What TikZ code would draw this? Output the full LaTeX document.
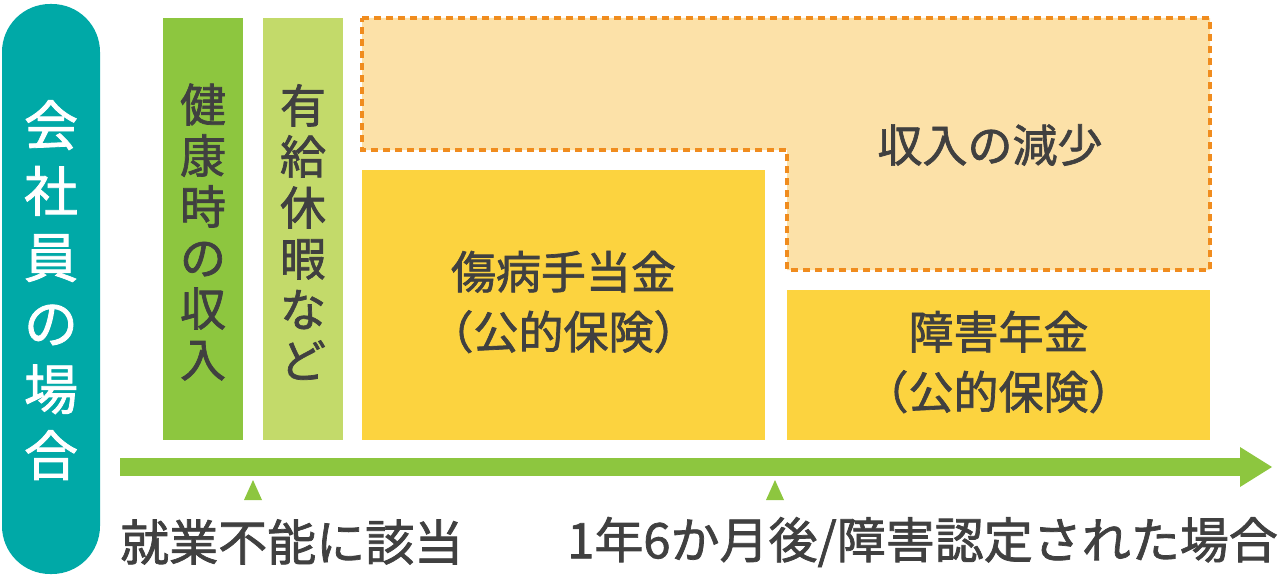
\documentclass[tikz,border=0pt]{standalone}
\usepackage{fontspec}
\setmainfont{Noto Sans CJK JP}[FakeBold=1.5]
\begin{document}
\begin{tikzpicture}[x=1pt,y=-1pt,
  txt/.style={text=black!75,font=\fontsize{45}{60}\selectfont},
  btxt/.style={text=black!75,font=\fontsize{49}{60}\selectfont},
  vtxt/.style={text=black!75,font=\fontsize{46}{51}\selectfont,align=center,inner sep=0pt}]
\definecolor{teal1}{HTML}{00A9A7}
\definecolor{g1}{HTML}{8DC63F}
\definecolor{g2}{HTML}{C3DA6A}
\definecolor{o1}{HTML}{F08C1E}
\definecolor{o2}{HTML}{FCE1A8}
\definecolor{y1}{HTML}{FCD33F}
\useasboundingbox (0,0) rectangle (1280,578);
\node[fill=teal1,rounded corners=48pt,minimum width=98pt,minimum height=570pt,inner sep=0pt] (pill) at (51,289) {};
\node[text=white,font=\fontsize{54}{66}\selectfont,align=center] (pt) at (51,290) {会\\社\\員\\の\\場\\合};
\node[fill=g1,minimum width=80pt,minimum height=422pt,inner sep=0pt] (b1) at (203,229) {};
\node[vtxt] at (203,232) {健\\康\\時\\の\\収\\入};
\node[fill=g2,minimum width=80pt,minimum height=422pt,inner sep=0pt] (b2) at (303,229) {};
\node[vtxt] at (303,232) {有\\給\\休\\暇\\な\\ど};
\draw[o1,fill=o2,line width=3.5pt,dash pattern=on 7pt off 5pt] (362,18) -- (1210,18) -- (1210,270) -- (787,270) -- (787,150) -- (362,150) -- cycle;
\node[txt] (red) at (990,145) {収入の減少};
\node[fill=y1,minimum width=403pt,minimum height=270pt,inner sep=0pt] (y1b) at (563.5,305) {};
\node[txt,align=center] at (563.5,302) {傷病手当金\\（公的保険）};
\node[fill=y1,minimum width=423pt,minimum height=150pt,inner sep=0pt] (y2b) at (998.5,365) {};
\node[txt,align=center] at (998.5,362) {障害年金\\（公的保険）};
\fill[g1] (120,458) rectangle (1242,476);
\fill[g1] (1240,447) -- (1272,467) -- (1240,487) -- cycle;
\fill[g1] (253,480) -- (262,500) -- (244,500) -- cycle;
\fill[g1] (775,480) -- (784,500) -- (766,500) -- cycle;
\node[btxt,anchor=west,inner sep=0pt] (l1) at (120,542) {就業不能に該当};
\node[btxt,anchor=east,inner sep=0pt] (l2) at (1278,542) {1年6か月後/障害認定された場合};
\end{tikzpicture}
\end{document}
